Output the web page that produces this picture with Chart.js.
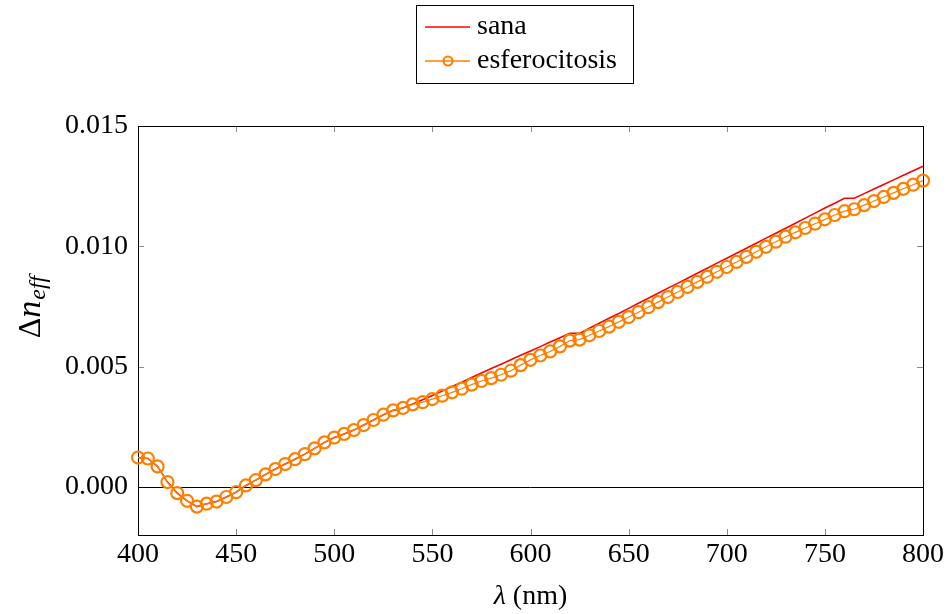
<!DOCTYPE html>
<html>
<head>
<meta charset="utf-8">
<title>Δn_eff</title>
<script src="https://cdn.jsdelivr.net/npm/chart.js@4.4.1/dist/chart.umd.min.js"></script>
<style>
  html, body { margin: 0; padding: 0; background: #ffffff; }
  canvas { display: block; }
</style>
</head>
<body>
<canvas id="grafico" width="949" height="614"></canvas>
<script>
// longitudes de onda (nm)
const A_lambda = [
  400, 405, 410, 415, 420, 425, 430, 435, 440, 445,
  450, 455, 460, 465, 470, 475, 480, 485, 490, 495,
  500, 505, 510, 515, 520, 525, 530, 535, 540, 545,
  550, 555, 560, 565, 570, 575, 580, 585, 590, 595,
  600, 605, 610, 615, 620, 625, 630, 635, 640, 645,
  650, 655, 660, 665, 670, 675, 680, 685, 690, 695,
  700, 705, 710, 715, 720, 725, 730, 735, 740, 745,
  750, 755, 760, 765, 770, 775, 780, 785, 790, 795,
  800
];

// Δn_eff, glóbulo sano
const A_sana = [
  0.00122, 0.00118, 0.00085, 0.00020, -0.00026, -0.00058, -0.00082, -0.00070, -0.00061, -0.00042,
  -0.00022, 0.00006, 0.00028, 0.00052, 0.00074, 0.00095, 0.00115, 0.00136, 0.00160, 0.00185,
  0.00205, 0.00220, 0.00236, 0.00257, 0.00278, 0.00300, 0.00318, 0.00328, 0.00345, 0.00362,
  0.00380, 0.00398, 0.00417, 0.00435, 0.00455, 0.00473, 0.00492, 0.00510, 0.00528, 0.00547,
  0.00565, 0.00583, 0.00602, 0.00620, 0.00638, 0.00638, 0.00659, 0.00680, 0.00701, 0.00721,
  0.00742, 0.00763, 0.00784, 0.00805, 0.00826, 0.00846, 0.00867, 0.00888, 0.00909, 0.00930,
  0.00950, 0.00971, 0.00992, 0.01013, 0.01034, 0.01054, 0.01075, 0.01096, 0.01117, 0.01138,
  0.01159, 0.01179, 0.01200, 0.01200, 0.01219, 0.01238, 0.01257, 0.01276, 0.01295, 0.01314,
  0.01333
];

// Δn_eff, esferocitosis
const A_esferocitosis = [
  0.00122, 0.00118, 0.00085, 0.00020, -0.00026, -0.00058, -0.00082, -0.00070, -0.00061, -0.00042,
  -0.00022, 0.00006, 0.00028, 0.00052, 0.00074, 0.00095, 0.00115, 0.00136, 0.00160, 0.00185,
  0.00205, 0.00220, 0.00236, 0.00257, 0.00278, 0.00300, 0.00318, 0.00328, 0.00343, 0.00352,
  0.00365, 0.00379, 0.00393, 0.00408, 0.00425, 0.00440, 0.00452, 0.00466, 0.00483, 0.00506,
  0.00528, 0.00546, 0.00563, 0.00584, 0.00608, 0.00612, 0.00630, 0.00648, 0.00666, 0.00686,
  0.00706, 0.00726, 0.00747, 0.00768, 0.00789, 0.00810, 0.00831, 0.00852, 0.00873, 0.00894,
  0.00914, 0.00935, 0.00956, 0.00977, 0.00998, 0.01019, 0.01040, 0.01058, 0.01076, 0.01094,
  0.01112, 0.01130, 0.01146, 0.01154, 0.01171, 0.01188, 0.01205, 0.01222, 0.01239, 0.01256,
  0.01273
];

const A_xTicks = [400, 450, 500, 550, 600, 650, 700, 750, 800];
const A_yTicks = [0.000, 0.005, 0.010, 0.015];

const S_font = "'Liberation Serif', 'DejaVu Serif', serif";
const I_fontSize = 28;

// marco, línea del cero y marcas hacia dentro (estilo pgfplots)
const O_framePlugin = {
  id: "marco",
  beforeDatasetsDraw(O_chart) {
    const O_ctx = O_chart.ctx;
    const O_area = O_chart.chartArea;
    const O_x = O_chart.scales.x;
    const O_y = O_chart.scales.y;
    const I_len = 6;

    O_ctx.save();
    O_ctx.lineWidth = 1;
    O_ctx.strokeStyle = "#8c8c8c";
    O_ctx.beginPath();
    A_xTicks.forEach((V) => {
      const X = Math.round(O_x.getPixelForValue(V)) + 0.5;
      O_ctx.moveTo(X, O_area.bottom);
      O_ctx.lineTo(X, O_area.bottom - I_len);
      O_ctx.moveTo(X, O_area.top);
      O_ctx.lineTo(X, O_area.top + I_len);
    });
    A_yTicks.forEach((V) => {
      const Y = Math.round(O_y.getPixelForValue(V)) + 0.5;
      O_ctx.moveTo(O_area.left, Y);
      O_ctx.lineTo(O_area.left + I_len, Y);
      O_ctx.moveTo(O_area.right, Y);
      O_ctx.lineTo(O_area.right - I_len, Y);
    });
    O_ctx.stroke();

    // línea horizontal en cero
    const Y0 = Math.round(O_y.getPixelForValue(0)) + 0.5;
    O_ctx.strokeStyle = "#000000";
    O_ctx.beginPath();
    O_ctx.moveTo(O_area.left, Y0);
    O_ctx.lineTo(O_area.right, Y0);
    O_ctx.stroke();

    O_ctx.strokeStyle = "#000000";
    O_ctx.strokeRect(
      Math.round(O_area.left) + 0.5,
      Math.round(O_area.top) + 0.5,
      Math.round(O_area.right - O_area.left),
      Math.round(O_area.bottom - O_area.top)
    );
    O_ctx.restore();
  },
};

// títulos de los ejes con cursiva y subíndice
const O_axisTitles = {
  id: "titulosEjes",
  afterDraw(O_chart) {
    const O_ctx = O_chart.ctx;
    const O_area = O_chart.chartArea;
    O_ctx.save();
    O_ctx.fillStyle = "#000000";
    O_ctx.textBaseline = "alphabetic";

    // eje x: λ (nm)
    const S_italic = "italic " + I_fontSize + "px " + S_font;
    const S_normal = I_fontSize + "px " + S_font;
    O_ctx.font = S_italic;
    const F_w1 = O_ctx.measureText("λ").width;
    O_ctx.font = S_normal;
    const F_w2 = O_ctx.measureText(" (nm)").width;
    let X = (O_area.left + O_area.right) / 2 - (F_w1 + F_w2) / 2;
    O_ctx.font = S_italic;
    O_ctx.fillText("λ", X, 604);
    O_ctx.font = S_normal;
    O_ctx.fillText(" (nm)", X + F_w1, 604);

    // eje y: Δn_eff
    const S_big = "32px " + S_font;
    const S_bigItalic = "italic 34px " + S_font;
    const S_sub = "italic 24px " + S_font;
    O_ctx.font = S_big;
    const F_wD = O_ctx.measureText("Δ").width;
    O_ctx.font = S_bigItalic;
    const F_wN = O_ctx.measureText("n").width + 1;
    O_ctx.font = S_sub;
    const F_wS = O_ctx.measureText("eff").width;
    const F_total = F_wD + F_wN + F_wS;
    O_ctx.translate(40, 307);
    O_ctx.rotate(-Math.PI / 2);
    let F_pos = -F_total / 2;
    O_ctx.font = S_big;
    O_ctx.fillText("Δ", F_pos, 0);
    F_pos += F_wD;
    O_ctx.font = S_bigItalic;
    O_ctx.fillText("n", F_pos, 0);
    F_pos += F_wN;
    O_ctx.font = S_sub;
    O_ctx.fillText("eff", F_pos, 5);
    O_ctx.restore();
  },
};

// leyenda enmarcada, una serie por fila
const O_legendPlugin = {
  id: "leyenda",
  afterDraw(O_chart) {
    const O_ctx = O_chart.ctx;
    const A_sets = O_chart.data.datasets;
    const I_left = 416;
    const I_top = 5;
    const I_w = 217;
    const I_h = 78;
    const A_rowY = [27, 61];

    O_ctx.save();
    O_ctx.fillStyle = "#ffffff";
    O_ctx.fillRect(I_left, I_top, I_w, I_h);
    O_ctx.lineWidth = 1;
    O_ctx.strokeStyle = "#000000";
    O_ctx.strokeRect(I_left + 0.5, I_top + 0.5, I_w, I_h);

    A_sets.forEach((O_set, I) => {
      const Y = A_rowY[I];
      O_ctx.strokeStyle = O_set.borderColor;
      O_ctx.lineWidth = 1.6;
      O_ctx.beginPath();
      O_ctx.moveTo(I_left + 9, Y);
      O_ctx.lineTo(I_left + 54, Y);
      O_ctx.stroke();
      if (O_set.pointRadius > 0) {
        O_ctx.lineWidth = O_set.pointBorderWidth;
        O_ctx.beginPath();
        O_ctx.arc(I_left + 32, Y, 4.5, 0, Math.PI * 2);
        O_ctx.stroke();
      }
      O_ctx.fillStyle = "#000000";
      O_ctx.font = I_fontSize + "px " + S_font;
      O_ctx.textBaseline = "alphabetic";
      O_ctx.fillText(O_set.label, I_left + 61, Y + 7);
    });
    O_ctx.restore();
  },
};

const O_ctx = document.getElementById("grafico").getContext("2d");
new Chart(O_ctx, {
  type: "line",
  data: {
    datasets: [
      {
        label: "sana",
        data: A_lambda.map((V, I) => ({ x: V, y: A_sana[I] })),
        borderColor: "#ff0000",
        borderWidth: 1.6,
        pointRadius: 0,
        tension: 0,
        fill: false,
        order: 1,
        clip: false,
      },
      {
        label: "esferocitosis",
        data: A_lambda.map((V, I) => ({ x: V, y: A_esferocitosis[I] })),
        borderColor: "#ff8000",
        borderWidth: 1.2,
        pointRadius: 6,
        pointBorderWidth: 2.2,
        pointBorderColor: "#ff8000",
        pointBackgroundColor: "rgba(0,0,0,0)",
        pointStyle: "circle",
        tension: 0,
        fill: false,
        order: 0,
        clip: false,
      },
    ],
  },
  options: {
    responsive: false,
    animation: false,
    events: [],
    layout: {
      padding: { top: 126, right: 26, left: 0, bottom: 0 },
    },
    plugins: {
      legend: { display: false },
      tooltip: { enabled: false },
      title: { display: false },
    },
    scales: {
      x: {
        type: "linear",
        min: 400,
        max: 800,
        afterBuildTicks(O_scale) {
          O_scale.ticks = A_xTicks.map((V) => ({ value: V }));
        },
        afterFit(O_scale) {
          O_scale.height = 79;
        },
        ticks: {
          color: "#000000",
          padding: 3,
          maxRotation: 0,
          font: { family: S_font, size: I_fontSize },
          callback: (V) => String(V),
        },
        grid: { display: false, drawTicks: false },
        border: { display: false },
      },
      y: {
        type: "linear",
        min: -0.002,
        max: 0.015,
        afterBuildTicks(O_scale) {
          O_scale.ticks = A_yTicks.map((V) => ({ value: V }));
        },
        afterFit(O_scale) {
          O_scale.width = 138;
        },
        ticks: {
          color: "#000000",
          padding: 10,
          font: { family: S_font, size: I_fontSize },
          callback: (V) => V.toFixed(3),
        },
        grid: { display: false, drawTicks: false },
        border: { display: false },
      },
    },
  },
  plugins: [O_framePlugin, O_axisTitles, O_legendPlugin],
});
</script>
</body>
</html>
